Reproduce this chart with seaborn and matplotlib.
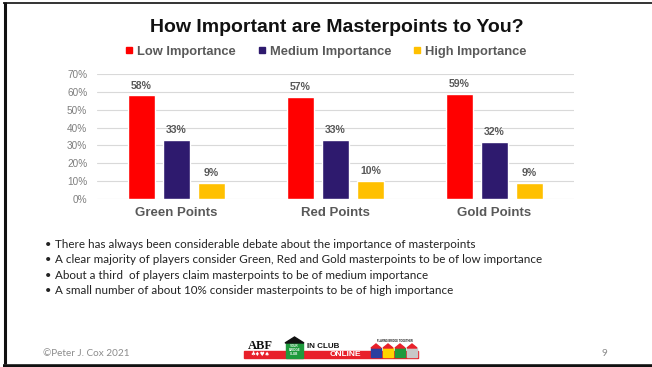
import matplotlib
matplotlib.use("Agg")
import matplotlib.pyplot as plt
import seaborn as sns
import pandas as pd
from matplotlib.lines import Line2D
from matplotlib.patches import Rectangle, Polygon

# ---- data ----
categories = ["Green Points", "Red Points", "Gold Points"]
levels = ["Low Importance", "Medium Importance", "High Importance"]
low_values = [58, 57, 59]
medium_values = [33, 33, 32]
high_values = [9, 10, 9]
y_ticks = [0, 10, 20, 30, 40, 50, 60, 70]
colors = ["#FF0000", "#2E1A6E", "#FFC000"]

title = "How Important are Masterpoints to You?"
bullets = [
    "There has always been considerable debate about the importance of masterpoints",
    "A clear majority of players consider Green, Red and Gold masterpoints to be of low importance",
    "About a third  of players claim masterpoints to be of medium importance",
    "A small number of about 10% consider masterpoints to be of high importance",
]
footer_left = "\u00a9Peter J. Cox 2021"
page_number = "9"

rows = []
for lvl, vals in zip(levels, [low_values, medium_values, high_values]):
    for cat, v in zip(categories, vals):
        rows.append({"category": cat, "level": lvl, "value": v})
df = pd.DataFrame(rows)

sns.set_theme(style="white")
plt.rcParams["font.family"] = ["Liberation Sans", "DejaVu Sans"]

W, H = 652, 367
fig = plt.figure(figsize=(W / 100, H / 100), dpi=100)
fig.patch.set_facecolor("white")

# full-figure pixel canvas for slide decoration
deco = fig.add_axes([0, 0, 1, 1], zorder=0)
deco.set_xlim(0, W)
deco.set_ylim(H, 0)
deco.axis("off")

# slide frame
deco.plot([4.5, 4.5], [2, 364], color="#111111", lw=2.2, solid_capstyle="butt")
deco.plot([3, W], [2.5, 2.5], color="#111111", lw=1.2, solid_capstyle="butt")
deco.plot([3, W], [365.5, 365.5], color="#111111", lw=2.6, solid_capstyle="butt")

# ---- chart ----
def px_box(x0, y0, x1, y1):
    return [x0 / W, 1 - y1 / H, (x1 - x0) / W, (y1 - y0) / H]

ax = fig.add_axes(px_box(97, 74, 574, 199), zorder=2)
ax.patch.set_alpha(0)
sns.barplot(data=df, x="category", y="value", hue="level", hue_order=levels,
            order=categories, palette=colors, width=0.66, gap=0.23,
            saturation=1, ax=ax, legend=False)
ax.set_xlim(-0.5, 2.5)
ax.set_ylim(0, 70)
ax.set_yticks(y_ticks)
ax.set_yticklabels([f"{t}%" for t in y_ticks], fontsize=7.2, color="#7F7F7F")
ax.set_xticks(range(len(categories)))
ax.set_xticklabels(categories, fontsize=9.5, fontweight="bold", color="#595959")
ax.tick_params(axis="both", length=0)
ax.tick_params(axis="y", pad=7)
ax.tick_params(axis="x", pad=6)
ax.set_xlabel("")
ax.set_ylabel("")
ax.yaxis.grid(True, color="#D9D9D9", linewidth=0.8)
ax.set_axisbelow(True)
for s in ax.spines.values():
    s.set_visible(False)

for cont in ax.containers:
    ax.bar_label(cont, fmt="%d%%", padding=3.5, fontsize=7.6, fontweight="bold",
                 color="#595959")

# title and legend
fig.text(337 / W, 1 - 27 / H, title, ha="center", va="center",
         fontsize=14, fontweight="bold", color="#111111")
handles = [Line2D([0], [0], marker="s", linestyle="", markersize=4.6,
                  markerfacecolor=c, markeredgecolor=c) for c in colors]
fig.legend(handles, levels, loc="center", bbox_to_anchor=(326 / W, 1 - 52 / H),
           ncol=3, frameon=False, handlelength=0.55, handletextpad=0.35,
           columnspacing=1.7,
           prop={"family": "Liberation Sans", "size": 9.3, "weight": "bold"},
           labelcolor="#595959")

# ---- bullet text ----
for i, line in enumerate(bullets):
    y = 244 + i * 15.6
    deco.text(45, y, "\u2022", ha="left", va="center", fontsize=8,
              color="#222222", family="Lato")
    deco.text(55, y, line, ha="left", va="center", fontsize=8.35,
              color="#222222", family="Lato")

# ---- footer ----
deco.text(43, 353, footer_left, ha="left", va="center", fontsize=7.2,
          color="#8C8C8C", family="Lato")
deco.text(601, 353, page_number, ha="left", va="center", fontsize=7.2,
          color="#8C8C8C", family="Lato")

# logo
deco.add_patch(Rectangle((244, 351), 174, 7, color="#E8202A", zorder=1))
deco.text(260, 346, "ABF", ha="center", va="center", fontsize=9,
          fontweight="bold", family="Liberation Serif", color="#111111")
deco.text(260, 355, "\u2663\u2666\u2665\u2660", ha="center", va="center",
          fontsize=4, color="white", family="DejaVu Sans", zorder=3)
deco.add_patch(Rectangle((286, 343), 17, 15, color="#1E9A3C", zorder=2))
deco.add_patch(Polygon([(285, 343), (294.5, 337), (304, 343)],
                       closed=True, color="#111111", zorder=2))
deco.text(294.5, 350, "YOUR\nBRIDGE\nCLUB", ha="center", va="center",
          fontsize=2.2, color="white", fontweight="bold", zorder=3,
          linespacing=1.0)
deco.text(307, 347, "IN CLUB", ha="left", va="center", fontsize=5.8,
          fontweight="bold", color="#111111")
deco.text(345, 355, "ONLINE", ha="center", va="center", fontsize=6,
          fontweight="bold", color="white", zorder=3)
deco.text(395, 341, "PLAYING BRIDGE TOGETHER", ha="center", va="center",
          fontsize=1.8, fontweight="bold", color="#111111")
for k, c in enumerate(["#2A3FA0", "#FFD400", "#1E9A3C", "#C8C8C8"]):
    x0 = 371 + k * 12
    deco.add_patch(Rectangle((x0, 348), 10, 9, color=c, zorder=2))
    deco.add_patch(Polygon([(x0, 348), (x0 + 5, 344), (x0 + 10, 348)],
                           closed=True, color="#E8202A", zorder=2))

fig.savefig("out.png", dpi=100, facecolor="white")
